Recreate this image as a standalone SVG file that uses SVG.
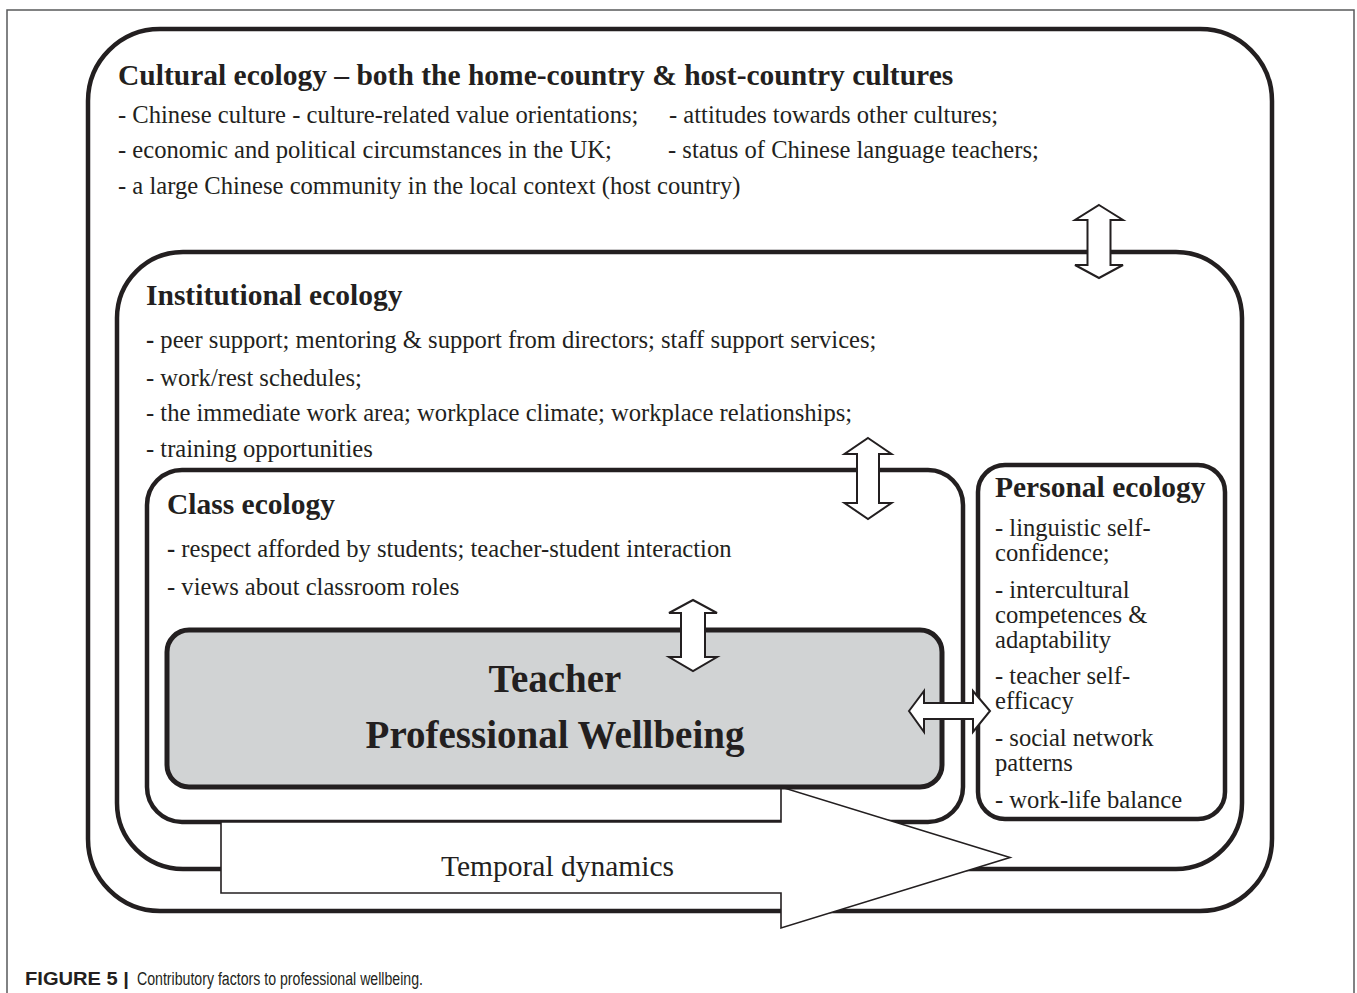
<svg xmlns="http://www.w3.org/2000/svg" width="1357" height="993" viewBox="0 0 1357 993">
<style>
.box{fill:#fff;stroke:#231f20;stroke-width:4.5}
.t{font-family:"Liberation Serif","Times New Roman",serif;fill:#231f20}
.h{font-size:29.5px;font-weight:bold}
.b{font-size:24.6px}
.arr{fill:#fff;stroke:#231f20;stroke-width:2;stroke-linejoin:miter}
.cap{font-family:"Liberation Sans",Arial,sans-serif;fill:#231f20;font-size:18px}
</style>
<rect width="1357" height="993" fill="#fff"/>
<rect id="frame" x="7" y="10" width="1347" height="1000" fill="none" stroke="#58595b" stroke-width="1.5"/>
<g id="cultural">
<rect class="box" x="88" y="29" width="1184" height="882" rx="72" ry="72"/>
<text class="t h" x="118" y="85">Cultural ecology – both the home-country &amp; host-country cultures</text>
<text class="t b" x="118" y="123">- Chinese culture - culture-related value orientations;</text>
<text class="t b" x="669" y="123">- attitudes towards other cultures;</text>
<text class="t b" x="118" y="158">- economic and political circumstances in the UK;</text>
<text class="t b" x="668" y="158">- status of Chinese language teachers;</text>
<text class="t b" x="118" y="194">- a large Chinese community in the local context (host country)</text>
</g>
<g id="institutional">
<rect class="box" x="117" y="252" width="1125" height="617" rx="66" ry="66"/>
<text class="t h" x="146" y="305">Institutional ecology</text>
<text class="t b" x="146" y="348"><tspan font-weight="bold">-</tspan> peer support; mentoring &amp; support from directors; staff support services;</text>
<text class="t b" x="146" y="386">- work/rest schedules;</text>
<text class="t b" x="146" y="421">- the immediate work area; workplace climate; workplace relationships;</text>
<text class="t b" x="146" y="457">- training opportunities</text>
</g>
<g id="class">
<rect class="box" x="147" y="470" width="816" height="352" rx="35" ry="35"/>
<text class="t h" x="167" y="514">Class ecology</text>
<text class="t b" x="167" y="557"><tspan font-weight="bold">-</tspan> respect afforded by students; teacher-student interaction</text>
<text class="t b" x="167" y="595">- views about classroom roles</text>
</g>
<g id="personal">
<rect class="box" x="978" y="465" width="247" height="354" rx="27" ry="27"/>
<text class="t h" x="995" y="497">Personal ecology</text>
<text class="t b" x="995" y="536">- linguistic self-</text>
<text class="t b" x="995" y="561">confidence;</text>
<text class="t b" x="995" y="598">- intercultural</text>
<text class="t b" x="995" y="623">competences &amp;</text>
<text class="t b" x="995" y="648">adaptability</text>
<text class="t b" x="995" y="684">- teacher self-</text>
<text class="t b" x="995" y="709">efficacy</text>
<text class="t b" x="995" y="746">- social network</text>
<text class="t b" x="995" y="771">patterns</text>
<text class="t b" x="995" y="808">- work-life balance</text>
</g>
<g id="temporal">
<polygon fill="#fff" stroke="#231f20" stroke-width="1.6" points="221,822 781,822 781,787 1010,857.5 781,928 781,893 221,893"/>
<text class="t" font-size="29.5" x="441" y="876">Temporal dynamics</text>
</g>
<g id="teacher">
<rect x="167" y="630" width="775" height="157" rx="22" ry="22" fill="#d1d3d4" stroke="#231f20" stroke-width="5"/>
<text class="t" font-size="39" font-weight="bold" x="555" y="692" text-anchor="middle">Teacher</text>
<text class="t" font-size="39" font-weight="bold" x="555" y="748" text-anchor="middle">Professional Wellbeing</text>
</g>
<g id="connectors">
<polygon class="arr" points="1099,205 1123,220 1110.5,220 1110.5,265 1123,265 1099,278 1075,265 1087.5,265 1087.5,220 1075,220"/>
<polygon class="arr" points="868,438 891.5,454 879,454 879,503 891.5,503 868,519 844.5,503 857,503 857,454 844.5,454"/>
<polygon class="arr" points="693,600 717,613 705,613 705,657 717,657 693,671 669,657 681,657 681,613 669,613"/>
<polygon class="arr" points="909,711 924,691 924,703 973,703 973,691 990,711 973,732 973,719 924,719 924,732"/>
</g>
<g id="caption">
<text class="cap" x="25" y="985" font-weight="bold" textLength="104" lengthAdjust="spacingAndGlyphs">FIGURE 5 |</text>
<text class="cap" x="137" y="985" textLength="286" lengthAdjust="spacingAndGlyphs">Contributory factors to professional wellbeing.</text>
</g>
</svg>
